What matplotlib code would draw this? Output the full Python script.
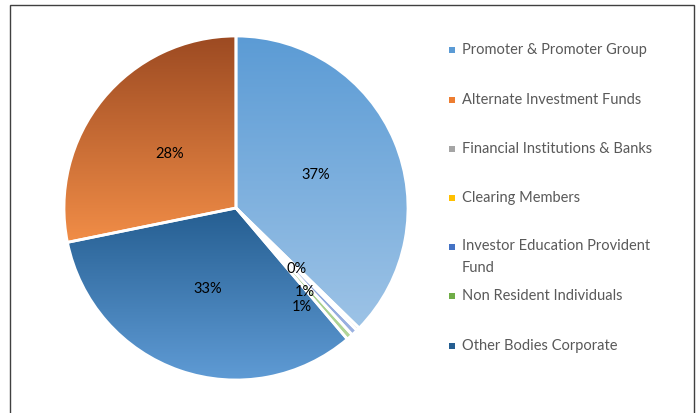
import matplotlib
matplotlib.use("Agg")
import matplotlib.pyplot as plt
import numpy as np
from matplotlib.patches import Rectangle
from matplotlib.colors import to_rgb

# ---- data ----
categories = ["Promoter & Promoter Group", "Alternate Investment Funds",
              "Financial Institutions & Banks", "Clearing Members",
              "Investor Education Provident Fund", "Non Resident Individuals",
              "Other Bodies Corporate"]
legend_labels = ["Promoter & Promoter Group", "Alternate Investment Funds",
                 "Financial Institutions & Banks", "Clearing Members",
                 "Investor Education Provident\nFund", "Non Resident Individuals",
                 "Other Bodies Corporate"]
values = [37.3, 28.2, 0.3, 0.0, 0.6, 0.6, 33.0]
# order in which slices appear clockwise from 12 o'clock
draw_order = [0, 2, 3, 4, 5, 6, 1]

# ---- styles ----
base_colors = ["#5B9BD5", "#ED7D31", "#A5A5A5", "#FFC000", "#4472C4", "#70AD47", "#255E91"]
grad_top = ["#5B9BD5", "#9C4A22", "#8C8C8C", "#D9A300", "#6F8FD0", "#8CC06A", "#255E91"]
grad_bot = ["#9DC3E6", "#F18D47", "#C8C8C8", "#FFD65C", "#9DB3E2", "#B3D69B", "#5F9BD5"]

W, H = 696, 413
fig = plt.figure(figsize=(W / 100, H / 100), dpi=100)
fig.patch.set_facecolor("white")

cx, cy, R = 236, 208, 172
ax = fig.add_axes([(cx - R) / W, (H - cy - R) / H, 2 * R / W, 2 * R / H])
ax.set_axis_off()

vals = [values[i] for i in draw_order]
wedges, _ = ax.pie(vals, startangle=90, counterclock=False, radius=1,
                   colors=[base_colors[i] for i in draw_order],
                   wedgeprops=dict(edgecolor="white", linewidth=2.0))

for w, idx, v in zip(wedges, draw_order, vals):
    if v <= 0:
        continue
    ext = w.get_path().get_extents()
    c0 = np.array(to_rgb(grad_top[idx]))
    c1 = np.array(to_rgb(grad_bot[idx]))
    t = np.linspace(0, 1, 256)[:, None, None]
    img = c0[None, None, :] * (1 - t) + c1[None, None, :] * t
    im = ax.imshow(img, extent=[ext.x0, ext.x1, ext.y0, ext.y1], origin="upper",
                   aspect="auto", zorder=w.get_zorder(), interpolation="bilinear")
    im.set_clip_path(w)
    w.set_facecolor("none")
    w.set_zorder(w.get_zorder() + 0.5)

ax.set_xlim(-1, 1)
ax.set_ylim(-1, 1)

# ---- percentage labels ----
total = sum(values)
# (radius fraction, angle offset in degrees) overrides for crowded small slices
label_pos = {0: (0.5, 0), 1: (0.5, 0), 6: (0.5, 0),
             2: (0.5, 0.0), 4: (0.63, -4.0), 5: (0.69, -8.0)}
for w, idx, v in zip(wedges, draw_order, vals):
    if idx not in label_pos:
        continue
    rf, off = label_pos[idx]
    ang = np.deg2rad((w.theta1 + w.theta2) / 2 + off)
    ax.text(rf * np.cos(ang), rf * np.sin(ang), f"{v / total * 100:.0f}%",
            ha="center", va="center", fontsize=10.5, family="Lato", color="black",
            zorder=10)

# ---- legend ----
leg_y = [50, 100, 149, 198, 247, 296, 346]
for lab, y, c in zip(legend_labels, leg_y, base_colors):
    fig.patches.append(Rectangle(((449) / W, 1 - (y + 3) / H), 6 / W, 6 / H,
                                 transform=fig.transFigure, facecolor=c,
                                 edgecolor="none"))
    if "\n" in lab:
        fig.text(462 / W, 1 - (y - 8.5) / H, lab, ha="left", va="top",
                 fontsize=10.5, family="Lato", color="#595959", linespacing=1.74)
    else:
        fig.text(462 / W, 1 - y / H, lab, ha="left", va="center",
                 fontsize=10.5, family="Lato", color="#595959")

# ---- outer border ----
fig.patches.append(Rectangle((10 / W, -0.01), 684 / W, (H - 5) / H + 0.01,
                             transform=fig.transFigure, facecolor="none",
                             edgecolor="#404040", linewidth=1.0))

fig.savefig("out.png", dpi=100)
